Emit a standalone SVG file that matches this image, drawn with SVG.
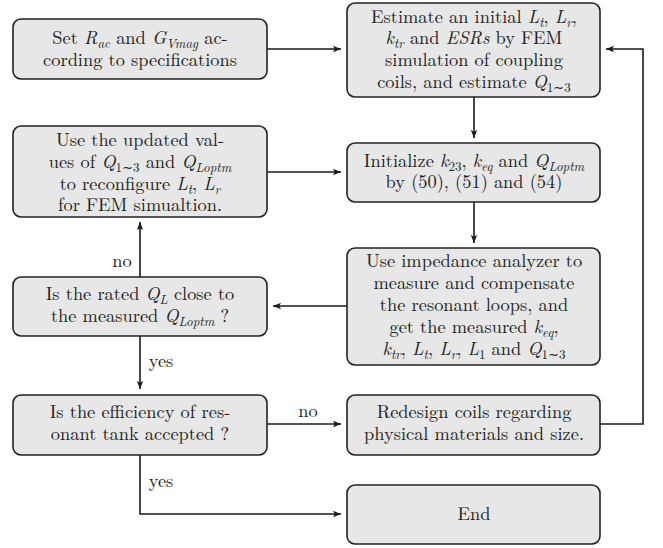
<svg xmlns="http://www.w3.org/2000/svg" width="663" height="548" viewBox="0 0 663 548">
<style>
.box{fill:#e6e7e6;stroke:#222;stroke-width:1.6}
text{font-family:'Latin Modern Roman',serif;font-size:18.4px;fill:#222;text-anchor:middle}
.m{font-style:italic}
.s{font-size:13px}
.c{fill:none;stroke:#1a1a1a;stroke-width:1.6}
</style>
<defs>
<marker id="ah" viewBox="-1 -4 10 8" refX="8" refY="0" markerWidth="10" markerHeight="8" markerUnits="userSpaceOnUse" orient="auto">
<path d="M0,-3.2 L8,0 L0,3.2 L1.8,0 z" fill="#1a1a1a"/>
</marker>
</defs>
<g id="connectors">
<line class="c" x1="267" y1="49" x2="341" y2="49" marker-end="url(#ah)"/>
<line class="c" x1="474" y1="97" x2="474" y2="138" marker-end="url(#ah)"/>
<line class="c" x1="267" y1="172" x2="341" y2="172" marker-end="url(#ah)"/>
<line class="c" x1="474" y1="202" x2="474" y2="243" marker-end="url(#ah)"/>
<line class="c" x1="347" y1="306" x2="273" y2="306" marker-end="url(#ah)"/>
<line class="c" x1="140" y1="277" x2="140" y2="222" marker-end="url(#ah)"/>
<line class="c" x1="140" y1="336" x2="140" y2="389" marker-end="url(#ah)"/>
<line class="c" x1="267" y1="424" x2="341" y2="424" marker-end="url(#ah)"/>
<polyline class="c" points="140,455 140,514 341,514" marker-end="url(#ah)"/>
<polyline class="c" points="600,424 643,424 643,49 606,49" marker-end="url(#ah)"/>
<text x="122" y="267">no</text>
<text x="161" y="367">yes</text>
<text x="308" y="417">no</text>
<text x="161" y="487">yes</text>
</g>

<g id="n1">
<rect class="box" x="13" y="19" width="254" height="60" rx="8"/>
<text x="140" y="44">Set <tspan class="m">R</tspan><tspan class="m s" dy="3.5">ac</tspan><tspan dy="-3.5"> and </tspan><tspan class="m">G</tspan><tspan class="m s" dy="3.5">Vmag</tspan><tspan dy="-3.5"> ac-</tspan></text>
<text x="140" y="66">cording to specifications</text>
</g>

<g id="n2">
<rect class="box" x="347" y="3" width="253" height="94" rx="8"/>
<text x="474" y="23">Estimate an initial <tspan class="m">L</tspan><tspan class="m s" dy="3.5">t</tspan><tspan dy="-3.5">, </tspan><tspan class="m">L</tspan><tspan class="m s" dy="3.5">r</tspan><tspan dy="-3.5">,</tspan></text>
<text x="474" y="44"><tspan class="m">k</tspan><tspan class="m s" dy="3.5">tr</tspan><tspan dy="-3.5"> and </tspan><tspan class="m">ESRs</tspan><tspan> by FEM</tspan></text>
<text x="474" y="66">simulation of coupling</text>
<text x="474" y="88">coils, and estimate <tspan class="m">Q</tspan><tspan class="s" dy="3.5">1∼3</tspan></text>
</g>

<g id="n3">
<rect class="box" x="13" y="126" width="254" height="91" rx="8"/>
<text x="140" y="146">Use the updated val-</text>
<text x="140" y="168">ues of <tspan class="m">Q</tspan><tspan class="s" dy="3.5">1∼3</tspan><tspan dy="-3.5"> and </tspan><tspan class="m">Q</tspan><tspan class="m s" dy="3.5">Loptm</tspan></text>
<text x="140" y="190">to reconfigure <tspan class="m">L</tspan><tspan class="m s" dy="3.5">t</tspan><tspan dy="-3.5">, </tspan><tspan class="m">L</tspan><tspan class="m s" dy="3.5">r</tspan></text>
<text x="140" y="211">for FEM simualtion.</text>
</g>

<g id="n4">
<rect class="box" x="347" y="143" width="253" height="59" rx="8"/>
<text x="474" y="167">Initialize <tspan class="m">k</tspan><tspan class="s" dy="3.5">23</tspan><tspan dy="-3.5">, </tspan><tspan class="m">k</tspan><tspan class="m s" dy="3.5">eq</tspan><tspan dy="-3.5"> and </tspan><tspan class="m">Q</tspan><tspan class="m s" dy="3.5">Loptm</tspan></text>
<text x="474" y="188">by (50), (51) and (54)</text>
</g>

<g id="n5">
<rect class="box" x="347" y="248" width="253" height="117" rx="8"/>
<text x="474" y="267">Use impedance analyzer to</text>
<text x="474" y="289">measure and compensate</text>
<text x="474" y="311">the resonant loops, and</text>
<text x="474" y="333">get the measured <tspan class="m">k</tspan><tspan class="m s" dy="3.5">eq</tspan><tspan dy="-3.5">,</tspan></text>
<text x="474" y="355"><tspan class="m">k</tspan><tspan class="m s" dy="3.5">tr</tspan><tspan dy="-3.5">, </tspan><tspan class="m">L</tspan><tspan class="m s" dy="3.5">t</tspan><tspan dy="-3.5">, </tspan><tspan class="m">L</tspan><tspan class="m s" dy="3.5">r</tspan><tspan dy="-3.5">, </tspan><tspan class="m">L</tspan><tspan class="s" dy="3.5">1</tspan><tspan dy="-3.5"> and </tspan><tspan class="m">Q</tspan><tspan class="s" dy="3.5">1∼3</tspan></text>
</g>

<g id="n6">
<rect class="box" x="13" y="277" width="254" height="59" rx="8"/>
<text x="140" y="300">Is the rated <tspan class="m">Q</tspan><tspan class="m s" dy="3.5">L</tspan><tspan dy="-3.5"> close to</tspan></text>
<text x="140" y="322">the measured <tspan class="m">Q</tspan><tspan class="m s" dy="3.5">Loptm</tspan><tspan dy="-3.5"> ?</tspan></text>
</g>

<g id="n7">
<rect class="box" x="13" y="395" width="254" height="60" rx="8"/>
<text x="140" y="418">Is the efficiency of res-</text>
<text x="140" y="440">onant tank accepted ?</text>
</g>

<g id="n8">
<rect class="box" x="347" y="395" width="253" height="60" rx="8"/>
<text x="474" y="418">Redesign coils regarding</text>
<text x="474" y="440">physical materials and size.</text>
</g>

<g id="n9">
<rect class="box" x="347" y="485" width="253" height="59" rx="8"/>
<text x="474" y="520">End</text>
</g>
</svg>
